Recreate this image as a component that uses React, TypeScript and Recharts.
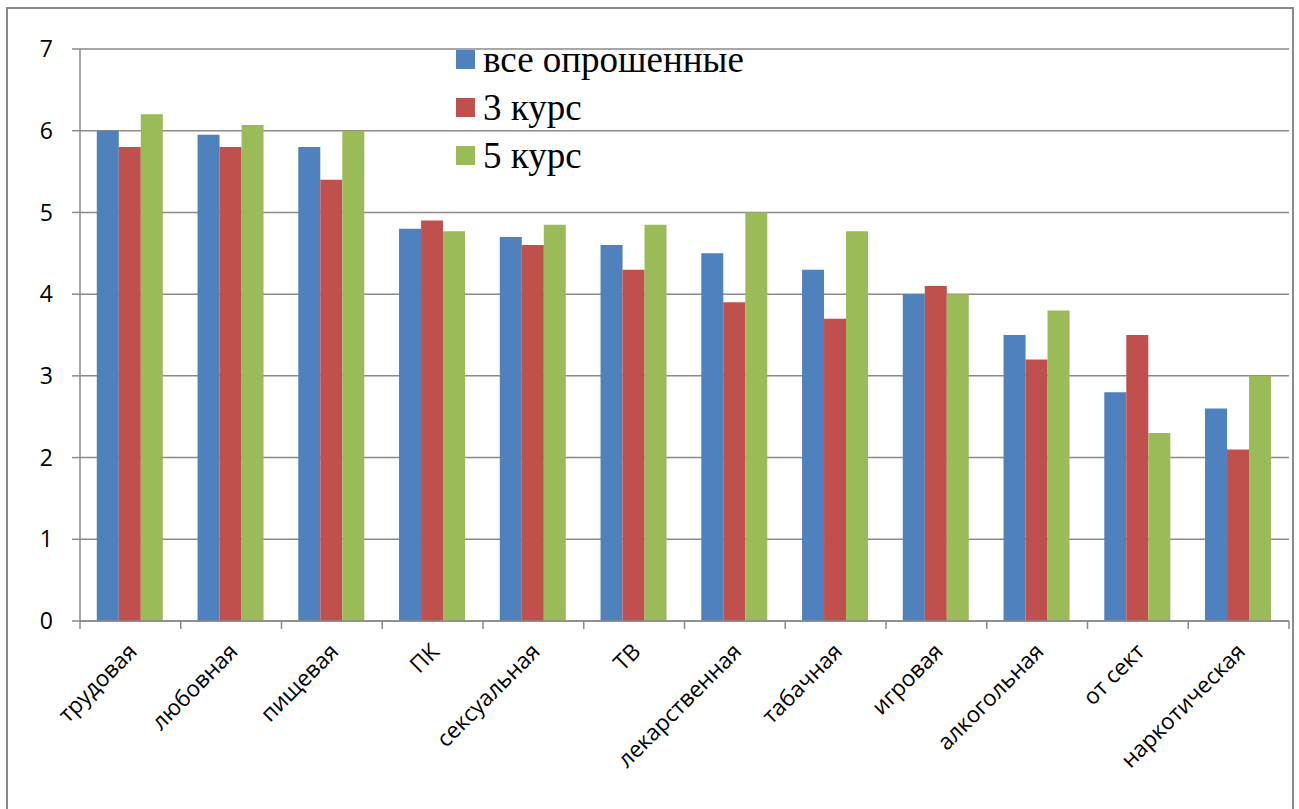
import React from 'react';
import { BarChart, Bar, XAxis, YAxis, CartesianGrid, Legend } from 'recharts';

const categories = ['трудовая', 'любовная', 'пищевая', 'ПК', 'сексуальная', 'ТВ', 'лекарственная', 'табачная', 'игровая', 'алкогольная', 'от сект', 'наркотическая'];
const allRespondents = [6.0, 5.95, 5.8, 4.8, 4.7, 4.6, 4.5, 4.3, 4.0, 3.5, 2.8, 2.6];
const course3 = [5.8, 5.8, 5.4, 4.9, 4.6, 4.3, 3.9, 3.7, 4.1, 3.2, 3.5, 2.1];
const course5 = [6.2, 6.07, 6.0, 4.77, 4.85, 4.85, 5.0, 4.77, 4.0, 3.8, 2.3, 3.0];
const seriesNames = ['все опрошенные', '3 курс', '5 курс'];
const seriesColors = ['#4F81BD', '#C0504D', '#9BBB59'];
const yTicks = [0, 1, 2, 3, 4, 5, 6, 7];

const data = categories.map((c, i) => ({
  name: c,
  all: allRespondents[i],
  c3: course3[i],
  c5: course5[i],
}));

const W = 1299;
const H = 809;
const MARGIN = { top: 49, right: 10, left: 30, bottom: 38 };
const Y_W = 50;
const X_H = 150;
const PLOT_W = W - MARGIN.left - MARGIN.right - Y_W;
const GRID = '#8a8a8a';
const SANS = '"Open Sans", "Noto Sans", sans-serif';

const XTick = (props: any) => {
  const { x, y, payload, index } = props;
  const bw = PLOT_W / categories.length;
  const tx = x + 8;
  const ty = y + 32;
  return (
    <g>
      {index === 0 && (
        <line x1={x - bw / 2} x2={x - bw / 2} y1={y} y2={y + 8} stroke={GRID} strokeWidth={1.5} />
      )}
      <line x1={x + bw / 2} x2={x + bw / 2} y1={y} y2={y + 8} stroke={GRID} strokeWidth={1.5} />
      <g transform={`translate(${tx}, ${ty}) rotate(-45)`}>
        <text x={0} y={0} textAnchor="end" fontSize={22.5} fontFamily={SANS} fill="#000">
          {payload.value}
        </text>
      </g>
    </g>
  );
};

const renderLegend = () => (
  <div style={{ fontFamily: '"Liberation Serif", "Times New Roman", serif', fontSize: 37, color: '#000' }}>
    {seriesNames.map((name, i) => (
      <div key={name} style={{ position: 'relative', height: 48, width: 400 }}>
        <span style={{ position: 'absolute', left: 0, top: 14, width: 19, height: 19, background: seriesColors[i] }} />
        <span style={{ position: 'absolute', left: 27, top: 0, lineHeight: '48px', whiteSpace: 'nowrap' }}>{name}</span>
      </div>
    ))}
  </div>
);

export default function App() {
  return (
    <div style={{ position: 'absolute', left: 0, top: 0, width: W, height: H, overflow: 'hidden', background: '#fff' }}>
      <div
        style={{
          position: 'absolute',
          left: 6,
          top: 7,
          width: 1288,
          height: 820,
          border: `2px solid ${GRID}`,
          boxSizing: 'border-box',
        }}
      />
      <div style={{ position: 'absolute', left: 0, top: 0 }}>
        <BarChart width={W} height={H} data={data} margin={MARGIN} barCategoryGap="16.67%" barGap={0}>
          <CartesianGrid vertical={false} stroke={GRID} strokeWidth={1.5} />
          <XAxis
            dataKey="name"
            interval={0}
            height={X_H}
            tickSize={0}
            tickMargin={0}
            tickLine={false}
            axisLine={{ stroke: GRID, strokeWidth: 1.5 }}
            tick={<XTick />}
          />
          <YAxis
            width={Y_W}
            domain={[0, 7]}
            ticks={yTicks}
            interval={0}
            tickSize={8}
            tickMargin={19}
            tickLine={{ stroke: GRID, strokeWidth: 1.5 }}
            axisLine={{ stroke: GRID, strokeWidth: 1.5 }}
            tick={{ fontSize: 23, fill: '#000', fontFamily: SANS }}
          />
          <Legend
            layout="vertical"
            align="center"
            verticalAlign="middle"
            content={renderLegend}
            wrapperStyle={{ position: 'absolute', left: 456, top: 36, width: 400, height: 150 }}
          />
          <Bar dataKey="all" name={seriesNames[0]} fill={seriesColors[0]} isAnimationActive={false} />
          <Bar dataKey="c3" name={seriesNames[1]} fill={seriesColors[1]} isAnimationActive={false} />
          <Bar dataKey="c5" name={seriesNames[2]} fill={seriesColors[2]} isAnimationActive={false} />
        </BarChart>
      </div>
    </div>
  );
}
